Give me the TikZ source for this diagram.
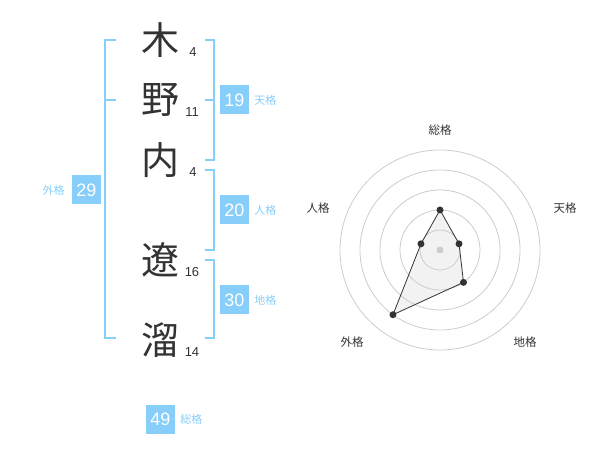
\documentclass[tikz,border=0pt]{standalone}
\usepackage{fontspec}
\setmainfont{Liberation Sans}
\newfontfamily\jpfont{Noto Sans CJK JP}
\usetikzlibrary{positioning,calc}
\definecolor{kakublue}{RGB}{135,206,250}
\definecolor{inkgray}{RGB}{51,51,51}
\definecolor{ringgray}{RGB}{204,204,204}

\begin{document}
\begin{tikzpicture}[
  x=1pt, y=-1pt,
  kanji/.style={font=\jpfont\fontsize{38}{38}\selectfont, text=inkgray, inner sep=0pt},
  kaku/.style={fill=kakublue, text=white, minimum size=29pt, inner sep=0pt,
               font=\fontsize{18}{18}\selectfont},
  tag/.style={text=kakublue, font=\jpfont\fontsize{11}{11}\selectfont, inner sep=0pt},
  strokes/.style={text=inkgray, font=\fontsize{13}{13}\selectfont, inner sep=0pt},
  brk/.style={draw=kakublue, line width=2pt},
  ring/.style={draw=ringgray, line width=0.8pt},
  axlbl/.style={text=inkgray, font=\jpfont\fontsize{11.5}{11.5}\selectfont},
  dot/.style={circle, fill=inkgray, inner sep=0pt, minimum size=7pt},
]
  \useasboundingbox (0,0) rectangle (600,470);

  % name characters
  \node[kanji] (k1) at (160,40)  {木};
  \node[kanji] (k2) at (160,100) {野};
  \node[kanji] (k3) at (160,160) {内};
  \node[kanji] (k4) at (160,260) {遼};
  \node[kanji] (k5) at (160,340) {溜};

  % stroke counts
  \node[strokes] (s1) at (193,52)  {4};
  \node[strokes] (s2) at (192,112) {11};
  \node[strokes] (s3) at (193,172) {4};
  \node[strokes] (s4) at (192,272) {16};
  \node[strokes] (s5) at (192,352) {14};

  % brackets
  \draw[brk] (116,40) -- (105,40) -- (105,338) -- (116,338);
  \draw[brk] (105,100) -- (116,100);
  \draw[brk] (205,40) -- (214,40) -- (214,160) -- (205,160);
  \draw[brk] (205,100) -- (214,100);
  \draw[brk] (205,170) -- (214,170) -- (214,250) -- (205,250);
  \draw[brk] (205,260) -- (214,260) -- (214,338) -- (205,338);

  % kaku boxes
  \node[kaku] (gai)  at (86.5,190)  {29};
  \node[kaku] (ten)  at (234.5,100) {19};
  \node[kaku] (jin)  at (234.5,210) {20};
  \node[kaku] (chi)  at (234.5,300) {30};
  \node[kaku] (sou)  at (160.5,419) {49};
  \node[tag, left=7pt of gai]  (gait) {外格};
  \node[tag, right=5pt of ten] (tent) {天格};
  \node[tag, right=5pt of jin] (jint) {人格};
  \node[tag, right=5pt of chi] (chit) {地格};
  \node[tag, right=5pt of sou] (sout) {総格};

  % radar chart
  \coordinate (c) at (440,250);
  \foreach \r in {20,40,60,80,100}
    \draw[ring] (c) circle[radius=\r pt];
  \node[axlbl] (lsou) at (440,130) {総格};
  \node[axlbl] (lten) at (565,208) {天格};
  \node[axlbl] (lchi) at (525,342) {地格};
  \node[axlbl] (lgai) at (352,342) {外格};
  \node[axlbl] (ljin) at (318,208) {人格};

  \coordinate (psou) at ($(c)+(90:40pt)$);
  \coordinate (pten) at ($(c)+(18:20pt)$);
  \coordinate (pchi) at ($(c)+(-54:40pt)$);
  \coordinate (pgai) at ($(c)+(-126:80pt)$);
  \coordinate (pjin) at ($(c)+(162:20pt)$);
  \fill[gray!40, fill opacity=0.25] (psou) -- (pten) -- (pchi) -- (pgai) -- (pjin) -- cycle;
  \draw[inkgray, line width=0.8pt] (psou) -- (pten) -- (pchi) -- (pgai) -- (pjin) -- cycle;
  \fill[ringgray] (c) circle[radius=3.5pt];
  \foreach \p in {psou,pten,pchi,pgai,pjin}
    \node[dot] at (\p) {};
\end{tikzpicture}
\end{document}
